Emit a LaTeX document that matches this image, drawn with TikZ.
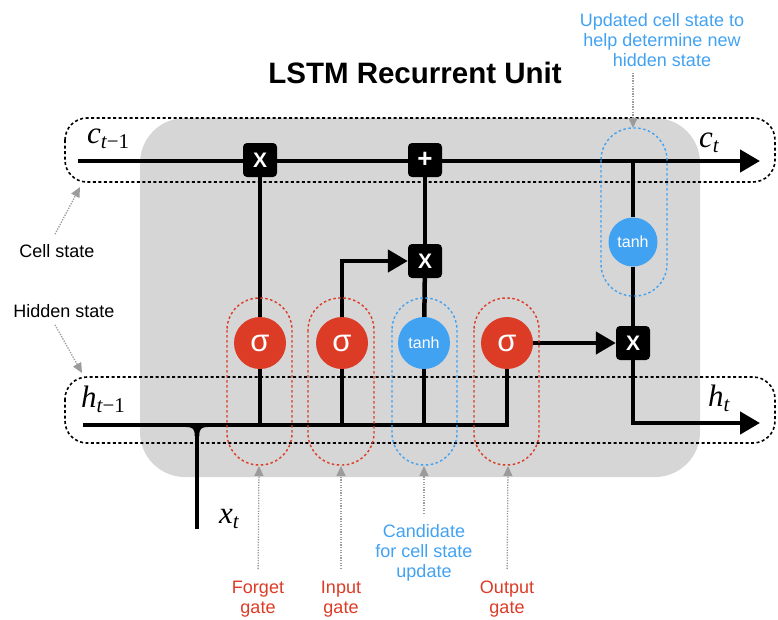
\documentclass[tikz,border=0pt]{standalone}
\usepackage[no-math]{fontspec}
\setmainfont{Liberation Sans}
\newfontfamily\tms{Liberation Serif}
\usetikzlibrary{arrows.meta}
\pgfdeclarelayer{bg}
\pgfdeclarelayer{mid}
\pgfsetlayers{bg,mid,main}
\definecolor{lred}{HTML}{DC3B26}
\definecolor{lblue}{HTML}{42A2F2}
\definecolor{lgrey}{HTML}{D6D6D6}
\definecolor{agrey}{HTML}{9B9B9B}
\newcommand\mlab[2]{{\tms\itshape #1}\raisebox{-5pt}{\fontsize{21}{21}\selectfont\tms\itshape #2}}
\begin{document}
\begin{tikzpicture}[x=1pt,y=-1pt,
  opbox/.style={fill=black, rounded corners=4pt, minimum size=34pt, inner sep=0pt, text=white, font=\bfseries\fontsize{21}{21}\selectfont},
  sig/.style={circle, fill=lred, minimum size=52pt, inner sep=0pt, text=white, font=\fontsize{31}{31}\selectfont},
  tanhc/.style={circle, fill=lblue, minimum size=52pt, inner sep=0pt, text=white, font=\fontsize{16}{16}\selectfont},
  wire/.style={line width=4.5pt, line join=miter},
  arr/.style={-{Triangle[length=20pt,width=22pt]}},
  blkdot/.style={draw=black, line width=1.6pt, dash pattern=on 3pt off 2.5pt},
  reddot/.style={draw=lred, line width=1.4pt, dash pattern=on 2.5pt off 2.5pt},
  bluedot/.style={draw=lblue, line width=1.4pt, dash pattern=on 2.5pt off 2.5pt},
  garr/.style={draw=agrey, line width=1.3pt, dash pattern=on 1.3pt off 1.3pt, -{Triangle[length=10pt,width=9pt]}},
  lbl/.style={font=\fontsize{18}{20}\selectfont, align=center, inner sep=0pt},
  mathlbl/.style={font=\fontsize{31}{31}\selectfont, inner sep=0pt}
]
\useasboundingbox (0,0) rectangle (778,619);
\begin{pgfonlayer}{bg}
  \fill[lgrey, rounded corners=45pt] (140,118) rectangle (700,477);
\end{pgfonlayer}

% operation nodes
\node[opbox] (x1) at (260,160) {X};
\node[opbox, font=\bfseries\fontsize{26}{26}\selectfont] (pl) at (425,160) {+};
\node[opbox] (x2) at (425,261) {X};
\node[opbox] (x3) at (633,343) {X};
\node[tanhc, minimum size=49pt] (tc) at (633,242) {tanh};
\node[sig] (fg) at (260,343) {σ};
\node[sig] (ig) at (342,343) {σ};
\node[tanhc] (cg) at (424,343) {tanh};
\node[sig] (og) at (507,343) {σ};

% coordinates
\coordinate (c0) at (78,161);
\coordinate (c1) at (760,161);
\coordinate (h0) at (83,425);
\coordinate (hout) at (760,423);
\coordinate (xb) at (197,529);
\coordinate (hx) at (197,425);

\begin{pgfonlayer}{mid}
  \draw[wire,arr] (c0) -- (c1);
  \draw[wire] (fg) -- (x1);
  \draw[wire,arr] (ig) |- (x2);
  \draw[wire] (cg) -- (x2);
  \draw[wire] (x2) -- (pl);
  \draw[wire,arr] (og) -- (x3);
  \draw[wire] (tc |- c0) -- (tc);
  \draw[wire] (tc) -- (x3);
  \draw[wire,arr] (x3) |- (hout);
  \draw[wire] (h0) -| (og);
  \draw[wire] (fg) -- (fg |- h0);
  \draw[wire] (ig) -- (ig |- h0);
  \draw[wire] (cg) -- (cg |- h0);
  \draw[wire] (xb) -- (hx);
  \fill (186,427) .. controls (193,427) and (194.75,429) .. (194.75,436) -- (199.25,436) .. controls (199.25,429) and (201,427) .. (208,427) -- cycle;
\end{pgfonlayer}

% dotted boxes
\draw[blkdot, rounded corners=22pt] (65,118) rectangle (775,182);
\draw[blkdot, rounded corners=22pt] (65,377) rectangle (775,443);
\draw[reddot, rounded corners=32pt] (227,298) rectangle (292,465);
\draw[reddot, rounded corners=32pt] (308,298) rectangle (374,465);
\draw[bluedot, rounded corners=32pt] (392,298) rectangle (457,465);
\draw[reddot, rounded corners=32pt] (474,298) rectangle (539,465);
\draw[bluedot, rounded corners=32pt] (601,128) rectangle (667,296);

% math labels
\node[mathlbl, anchor=base west] (lc0) at (87,143) {\mlab{c}{t\upshape −1}};
\node[mathlbl, anchor=base west] (lc1) at (699,147) {\mlab{c}{t}};
\node[mathlbl, anchor=base west] (lh0) at (81,407) {\mlab{h}{t\upshape −1}};
\node[mathlbl, anchor=base west] (lh1) at (708,406) {\mlab{h}{t}};
\node[mathlbl, anchor=base west] (lx) at (219,523) {\mlab{x}{t}};

% title
\node[font=\bfseries\fontsize{29.5}{30}\selectfont, inner sep=0pt] (title) at (415,73) {LSTM Recurrent Unit};

% text labels
\node[lbl, text=lblue, anchor=north] (upd) at (662,13) {Updated cell state to\\help determine new\\hidden state};
\node[lbl] (cell) at (57,251) {Cell state};
\node[lbl] (hid) at (64,311) {Hidden state};
\node[lbl, text=lred, anchor=north] (flab) at (258,581) {Forget\\gate};
\node[lbl, text=lred, anchor=north] (ilab) at (341,581) {Input\\gate};
\node[lbl, text=lblue, anchor=north] (clab) at (424,524) {Candidate\\for cell state\\update};
\node[lbl, text=lred, anchor=north] (olab) at (507,581) {Output\\gate};

% grey pointer arrows
\coordinate (updb) at (633,128);
\coordinate (cellb) at (80,187);
\coordinate (hidb) at (82,373);
\coordinate (fb) at (259,466);
\coordinate (ib) at (341,466);
\coordinate (cb) at (424,466);
\coordinate (ob) at (508,466);
\draw[garr] ([xshift=-29pt]upd.south) ++(0,6) -- (updb);
\draw[garr] ([xshift=-2pt,yshift=10pt]cell.north) -- (cellb);
\draw[garr] ([xshift=-9pt,yshift=-7pt]hid.south) -- (hidb);
\draw[garr, shorten <=12pt] (flab.north) -- (fb);
\draw[garr, shorten <=12pt] (ilab.north) -- (ib);
\draw[garr, shorten <=10pt] (clab.north) -- (cb);
\draw[garr, shorten <=12pt] (olab.north) -- (ob);
\end{tikzpicture}
\end{document}
